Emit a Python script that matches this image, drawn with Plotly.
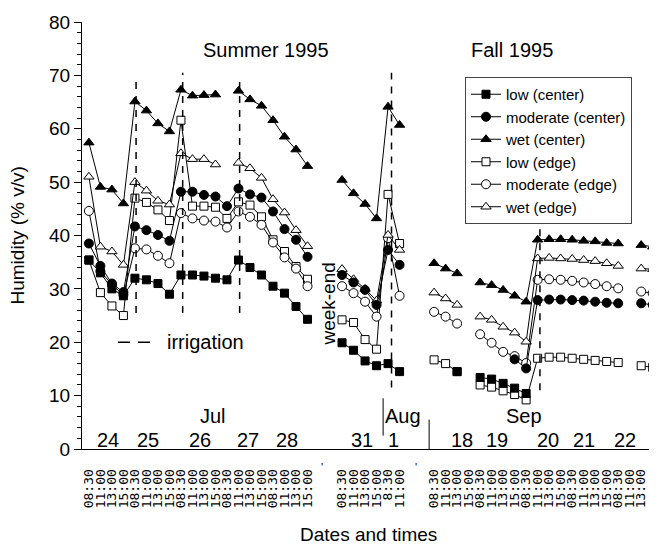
import plotly.graph_objects as go

N = None
times = ["08:30", "11:00", "13:00", "15:00"]
aug_times = ["8:30", "11:00"]
# slot indices: Jul 24-28 -> 0..19, Jul 31 -> 22..25, Aug 1 -> 26..27, Sep 18-22 -> 30..49
tick_idx = list(range(0, 20)) + list(range(22, 28)) + list(range(30, 50))
tick_text = times * 5 + times + aug_times + times * 5
x_idx = list(range(50))

days = ["24", "25", "26", "27", "28", "31", "1", "18", "19", "20", "21", "22"]
months = ["Jul", "Aug", "Sep"]

low_center = [35.4, 33.0, 30.0, 28.7, 32.0, 31.7, 31.0, 29.0, 32.6, 32.6,
              32.4, 32.0, 31.7, 35.4, 34.0, 32.6, 30.5, 29.2, 26.7, 24.3,
              N, N, 19.9, 18.5, 16.5, 15.6, 16.0, 14.5, N, N,
              N, N, 14.5, N, 13.4, 13.1, 12.3, 11.4, 10.4, N,
              N, N, N, N, N, N, N, N, N, N]
moderate_center = [38.5, 34.3, 31.0, 29.4, 41.7, 41.0, 40.1, 39.0, 48.2, 48.2,
                   47.6, 47.3, 45.5, 48.8, 47.7, 47.1, 44.5, 41.2, 39.2, 36.0,
                   N, N, 32.6, 31.2, 29.8, 27.0, 37.3, 34.5, N, N,
                   N, N, N, N, N, N, N, 16.8, 15.1, 27.9,
                   28.0, 28.0, 27.9, 27.8, 27.6, 27.4, 27.3, N, 27.3, 27.0]
wet_center = [57.4, 49.1, 48.6, 46.0, 65.1, 63.4, 61.0, 59.5, 67.3, 66.2,
              66.3, 66.4, N, 67.1, 65.5, 64.3, 61.6, 58.5, 56.1, 53.0,
              N, N, 50.4, 47.9, 45.9, 43.2, 64.1, 60.7, N, N,
              34.8, 33.8, 32.9, N, 31.2, 30.7, 29.8, 28.7, 27.6, 39.2,
              39.3, 39.3, 39.2, 39.0, 38.9, 38.6, 38.5, N, 38.2, 37.9]
low_edge = [35.4, 29.3, 26.8, 25.0, 47.0, 46.2, 44.8, 42.8, 61.6, 45.5,
            45.5, 45.3, 43.2, 46.3, 45.7, 43.5, 39.2, 37.0, 34.2, 31.8,
            N, N, 24.2, 23.7, 20.5, 18.7, 47.7, 38.5, N, N,
            16.7, 16.0, 14.5, N, 12.0, 11.6, 10.9, 10.2, 9.2, 17.0,
            17.2, 17.2, 17.0, 16.8, 16.6, 16.4, 16.2, N, 15.6, 15.3]
moderate_edge = [44.6, 33.3, 30.8, 28.9, 37.6, 37.4, 36.2, 34.8, 44.2, 43.2,
                 42.8, 42.6, 41.5, 44.5, 43.5, 42.0, 38.7, 35.9, 33.8, 30.5,
                 N, N, 30.5, 29.2, 27.6, 24.8, 39.5, 28.7, N, N,
                 25.7, 24.8, 23.5, N, 21.5, 19.9, 18.2, 17.4, 16.1, 31.7,
                 31.8, 31.7, 31.5, 31.2, 30.9, 30.5, 30.1, N, 29.5, 29.2]
wet_edge = [51.0, 37.9, 37.0, 34.5, 50.0, 48.4, 46.5, 45.8, 55.4, 54.3,
            54.3, 53.3, N, 53.6, 52.6, 50.8, 46.8, 44.3, 41.0, 38.0,
            N, N, 33.7, 31.8, 30.0, 27.8, 40.1, 37.3, N, N,
            29.3, 28.2, 27.0, N, 24.8, 24.2, 22.9, 21.8, 20.1, 35.7,
            35.8, 35.7, 35.6, 35.4, 35.2, 34.8, 34.3, N, 33.8, 33.7]

FONT = "Liberation Sans, Arial, sans-serif"

series = [
    # name, values, symbol, filled, size, legend rank  (draw order: open first)
    ("low (edge)", low_edge, "square", False, 8, 4),
    ("moderate (edge)", moderate_edge, "circle", False, 9, 5),
    ("wet (edge)", wet_edge, "triangle-up", False, 9, 6),
    ("moderate (center)", moderate_center, "circle", True, 9, 2),
    ("low (center)", low_center, "square", True, 8, 1),
    ("wet (center)", wet_center, "triangle-up", True, 9, 3),
]

fig = go.Figure()
for name, vals, sym, filled, size, rank in series:
    fig.add_trace(go.Scatter(
        x=x_idx, y=vals, name=name, mode="lines+markers",
        line=dict(color="black", width=1),
        marker=dict(symbol=sym, size=size,
                    color="black" if filled else "white",
                    line=dict(color="black", width=1)),
        legendrank=rank, cliponaxis=False, connectgaps=False,
    ))

# irrigation dashed lines
irrig = [(4.1, 25.5, 70.0), (8.15, 25.5, 70.5), (13.1, 25.5, 70.0),
         (26.3, 11.5, 70.5), (39.2, 11.0, 43.0)]
for xv, y0, y1 in irrig:
    fig.add_shape(type="line", xref="x", yref="y", x0=xv, x1=xv, y0=y0, y1=y1,
                  line=dict(color="black", width=1.5, dash="7px,7px"))
# irrigation key
fig.add_shape(type="line", xref="x", yref="y", x0=2.52, x1=5.3, y0=20, y1=20,
              line=dict(color="black", width=1.5, dash="12px,8px"))
# separators
fig.add_shape(type="line", xref="x", yref="y", x0=25.57, x1=25.57, y0=2.5, y1=9.5,
              line=dict(color="black", width=1))
fig.add_shape(type="line", xref="x", yref="y", x0=29.57, x1=29.57, y0=0, y1=5.5,
              line=dict(color="black", width=1))

ann = []
day_pos = [1.65, 5.13, 9.65, 13.83, 17.22, 23.74, 26.43, 32.43, 35.48, 39.91, 43.04, 46.61]
for d, xp in zip(days, day_pos):
    ann.append(dict(x=xp, y=1.7, xref="x", yref="y", text=d, showarrow=False,
                    font=dict(size=20, family=FONT, color="black")))
for m, xp in zip(months, [10.8, 27.3, 37.8]):
    ann.append(dict(x=xp, y=6.2, xref="x", yref="y", text=m, showarrow=False,
                    font=dict(size=20, family=FONT, color="black")))
ann += [
    dict(x=15.4, y=74.75, xref="x", yref="y", text="Summer 1995", showarrow=False,
         font=dict(size=20, family=FONT, color="black")),
    dict(x=36.8, y=74.75, xref="x", yref="y", text="Fall 1995", showarrow=False,
         font=dict(size=20, family=FONT, color="black")),
    dict(x=6.6, y=20, xref="x", yref="y", text="irrigation", showarrow=False,
         xanchor="left", font=dict(size=20, family=FONT, color="black")),
    dict(x=20.8, y=27.1, xref="x", yref="y", text="week-end", showarrow=False,
         textangle=-90, font=dict(size=19, family=FONT, color="black")),
    dict(x=0.5, y=-0.2014, xref="paper", yref="paper", text="Dates and times",
         showarrow=False, xanchor="center", yanchor="middle",
         font=dict(size=19, family=FONT, color="black")),
    dict(x=-0.1117, y=0.5, xref="paper", yref="paper", text="Humidity (% v/v)",
         showarrow=False, textangle=-90, xanchor="center", yanchor="middle",
         font=dict(size=19, family=FONT, color="black")),
    dict(x=20.3, y=-0.06, xref="x", yref="paper", text="'", showarrow=False,
         font=dict(size=11, family=FONT, color="black")),
    dict(x=28.4, y=-0.06, xref="x", yref="paper", text="'", showarrow=False,
         font=dict(size=11, family=FONT, color="black")),
]

# page body has an 8px default margin: figure is 8px smaller so it ends at 657x546
fig.update_layout(
    width=649, height=538,
    margin=dict(l=74, r=2, t=14, b=97),
    paper_bgcolor="white", plot_bgcolor="white",
    font=dict(family=FONT, color="black"),
    annotations=ann,
    legend=dict(x=0.6684, y=0.8712, xanchor="left", yanchor="top",
                bgcolor="white", bordercolor="#444", borderwidth=1,
                font=dict(size=15, family=FONT, color="black"),
                tracegroupgap=0),
    showlegend=True,
)
fig.update_xaxes(range=[-0.6, 49.2], showline=True, linecolor="black", linewidth=1,
                 showgrid=False, zeroline=False, tickmode="array",
                 tickvals=tick_idx, ticktext=tick_text, tickangle=-90,
                 ticks="outside", ticklen=14, tickcolor="rgba(0,0,0,0)",
                 tickfont=dict(size=13, family="DejaVu Sans Mono, monospace", color="black"))
fig.update_yaxes(range=[0, 80], dtick=10, showline=True, linecolor="black", linewidth=1,
                 showgrid=False, zeroline=False, ticks="outside", ticklen=7,
                 tickcolor="black",
                 minor=dict(dtick=2, ticks="outside", ticklen=4, tickcolor="black"),
                 tickfont=dict(size=19, family=FONT, color="black"))

fig.write_html("out.html")
